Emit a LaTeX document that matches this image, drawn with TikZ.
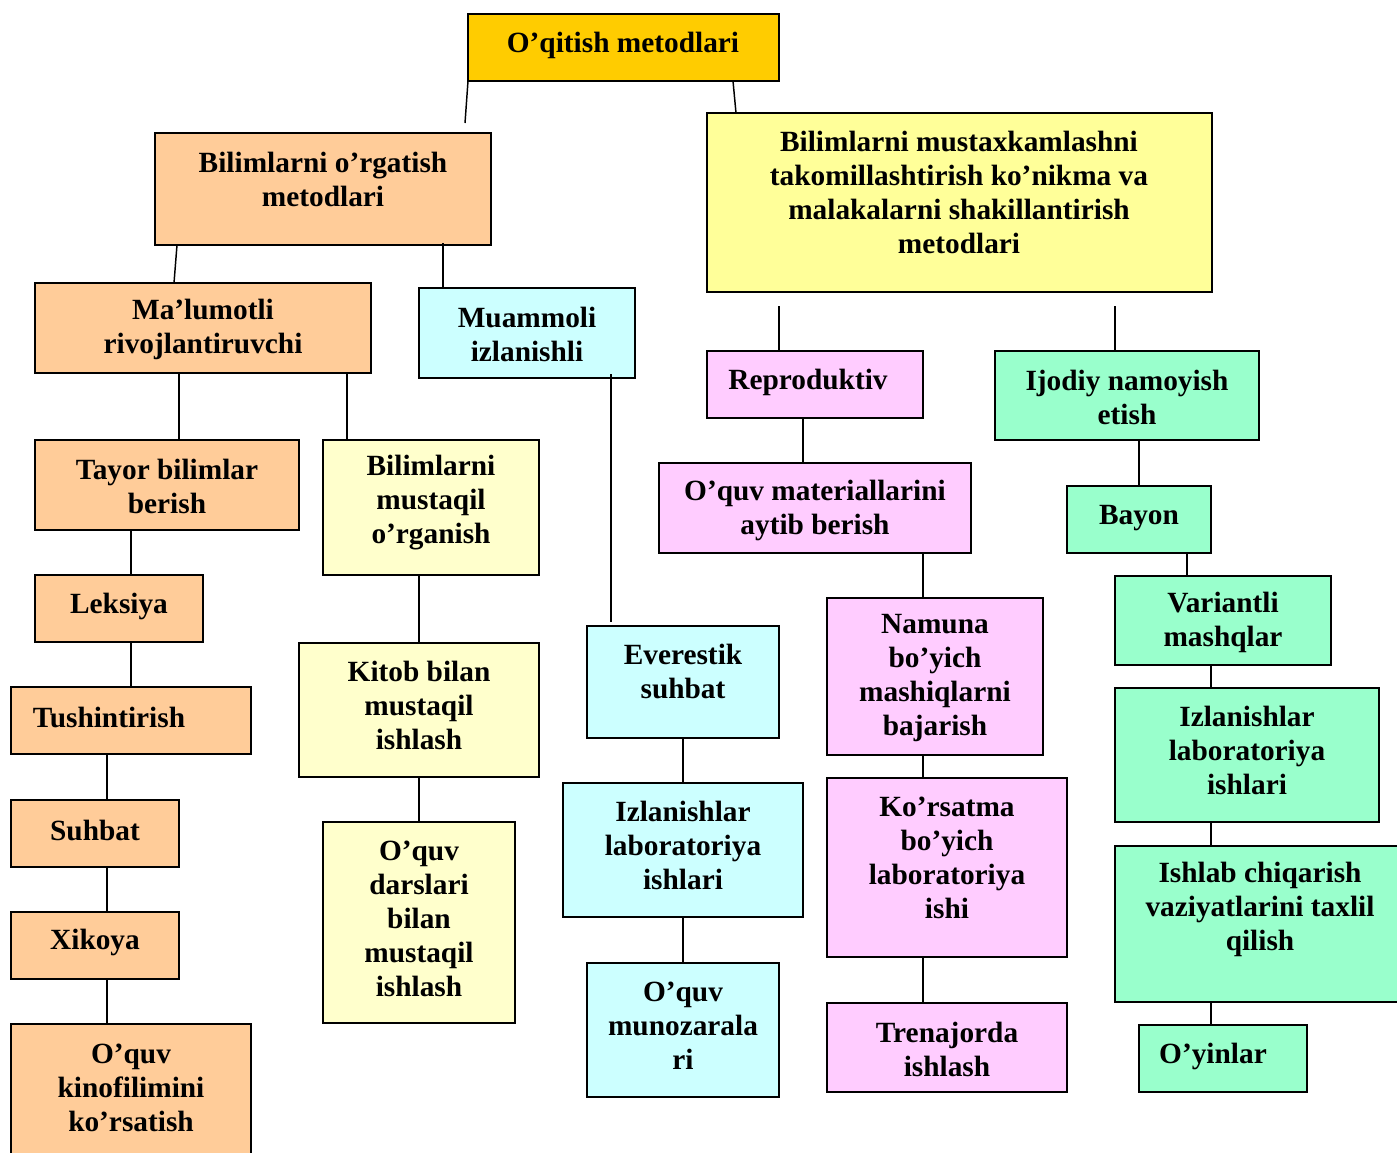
\documentclass[tikz,border=0pt]{standalone}
\usepackage{fontspec}
\setmainfont{Liberation Serif}
\usetikzlibrary{fit}
\definecolor{cgold}{HTML}{FFCC00}
\definecolor{cpeach}{HTML}{FFCC99}
\definecolor{cyel}{HTML}{FFFF99}
\definecolor{clyel}{HTML}{FFFFCC}
\definecolor{ccyan}{HTML}{CCFFFF}
\definecolor{cpink}{HTML}{FFCCFF}
\definecolor{cgreen}{HTML}{99FFCC}
\begin{document}
\begin{tikzpicture}[x=0.75pt,y=-0.75pt,
  box/.style={draw=black, line width=1.5pt, inner sep=0pt, outer sep=0pt},
  txt/.style={align=center, font=\fontsize{22}{25.5}\selectfont\bfseries, inner sep=0pt},
  conn/.style={line width=1.1pt, draw=black}]
\useasboundingbox (0,0) rectangle (1397,1153);
% boxes
\node[box,fill=cgold,fit={(468,14)(779,81)}](top){};
\node[txt] (top-t) at (623,45) {O’qitish metodlari};
\node[box,fill=cpeach,fit={(155,133)(491,245)}](bo){};
\node[txt] (bo-t) at (323,179) {Bilimlarni o’rgatish\\metodlari};
\node[box,fill=cyel,fit={(707,113)(1212,292)}](bm){};
\node[txt] (bm-t) at (959,192) {Bilimlarni mustaxkamlashni\\takomillashtirish ko’nikma va\\malakalarni shakillantirish\\metodlari};
\node[box,fill=cpeach,fit={(35,283)(371,373)}](ml){};
\node[txt] (ml-t) at (203,329) {Ma’lumotli\\rivojlantiruvchi};
\node[box,fill=ccyan,fit={(419,288)(635,378)}](mu){};
\node[txt] (mu-t) at (527,334) {Muammoli\\izlanishli};
\node[box,fill=cpink,fit={(707,351)(923,418)}](rp){};
\node[txt] (rp-t) at (808,382) {Reproduktiv};
\node[box,fill=cgreen,fit={(995,351)(1259,440)}](ij){};
\node[txt] (ij-t) at (1127,397) {Ijodiy namoyish\\etish};
\node[box,fill=cpeach,fit={(35,440)(299,530)}](ty){};
\node[txt] (ty-t) at (167,486) {Tayor bilimlar\\berish};
\node[box,fill=clyel,fit={(323,440)(539,575)}](bmo){};
\node[txt] (bmo-t) at (431,503) {Bilimlarni\\mustaqil\\o’rganish};
\node[box,fill=cpink,fit={(659,463)(971,553)}](om){};
\node[txt] (om-t) at (815,510) {O’quv materiallarini\\aytib berish};
\node[box,fill=cgreen,fit={(1067,486)(1211,553)}](by){};
\node[txt] (by-t) at (1139,518) {Bayon};
\node[box,fill=cpeach,fit={(35,575)(203,642)}](lk){};
\node[txt] (lk-t) at (119,606) {Leksiya};
\node[box,fill=clyel,fit={(299,643)(539,777)}](kt){};
\node[txt] (kt-t) at (419,705) {Kitob bilan\\mustaqil\\ishlash};
\node[box,fill=ccyan,fit={(587,626)(779,738)}](ev){};
\node[txt] (ev-t) at (683,671) {Everestik\\suhbat};
\node[box,fill=cpink,fit={(827,598)(1043,755)}](nm){};
\node[txt] (nm-t) at (935,678) {Namuna\\bo’yich\\mashiqlarni\\bajarish};
\node[box,fill=cgreen,fit={(1115,576)(1331,665)}](vr){};
\node[txt] (vr-t) at (1223,622) {Variantli\\mashqlar};
\node[box,fill=cpeach,fit={(11,687)(251,754)}](ts){};
\node[txt] (ts-t) at (109,717) {Tushintirish};
\node[box,fill=ccyan,fit={(563,783)(803,917)}](izb){};
\node[txt] (izb-t) at (683,845) {Izlanishlar\\laboratoriya\\ishlari};
\node[box,fill=cpink,fit={(827,778)(1067,957)}](ko){};
\node[txt] (ko-t) at (947,858) {Ko’rsatma\\bo’yich\\laboratoriya\\ishi};
\node[box,fill=cgreen,fit={(1115,688)(1379,822)}](izg){};
\node[txt] (izg-t) at (1247,750) {Izlanishlar\\laboratoriya\\ishlari};
\node[box,fill=cpeach,fit={(11,800)(179,867)}](sh){};
\node[txt] (sh-t) at (95,830) {Suhbat};
\node[box,fill=clyel,fit={(323,822)(515,1023)}](od){};
\node[txt] (od-t) at (419,919) {O’quv\\darslari\\bilan\\mustaqil\\ishlash};
\node[box,fill=cgreen,fit={(1115,846)(1410,1002)}](is){};
\node[txt] (is-t) at (1260,909) {Ishlab chiqarish\\vaziyatlarini taxlil\\qilish};
\node[box,fill=cpeach,fit={(11,912)(179,979)}](xk){};
\node[txt] (xk-t) at (95,942) {Xikoya};
\node[box,fill=ccyan,fit={(587,963)(779,1097)}](mz){};
\node[txt] (mz-t) at (683,1026) {O’quv\\munozarala\\ri};
\node[box,fill=cpink,fit={(827,1003)(1067,1092)}](tr){};
\node[txt] (tr-t) at (947,1049) {Trenajorda\\ishlash};
\node[box,fill=cgreen,fit={(1139,1025)(1307,1092)}](oy){};
\node[txt] (oy-t) at (1213,1056) {O’yinlar};
\node[box,fill=cpeach,fit={(11,1024)(251,1175)}](kf){};
\node[txt] (kf-t) at (131,1088) {O’quv\\kinofilimini\\ko’rsatish};
% free ends
\coordinate (e1) at (465,123);
\coordinate (e4) at (443,243);
\coordinate (e5) at (779,306);
\coordinate (e6) at (1115,306);
\coordinate (e9a) at (611,374);
\coordinate (e9b) at (611,622);
% connectors
\draw[conn] (top.south west) -- (e1);
\draw[conn] (733,0 |- top.south) -- (736,0 |- bm.north);
\draw[conn] (177,0 |- bo.south) -- (174,0 |- ml.north);
\draw[conn] (e4) -- (443,0 |- mu.north);
\draw[conn] (e5) -- (779,0 |- rp.north);
\draw[conn] (e6) -- (1115,0 |- ij.north);
\draw[conn] (179,0 |- ml.south) -- (179,0 |- ty.north);
\draw[conn] (347,0 |- ml.south) -- (347,0 |- bmo.north);
\draw[conn] (e9a) -- (e9b);
\draw[conn] (803,0 |- rp.south) -- (803,0 |- om.north);
\draw[conn] (1139,0 |- ij.south) -- (1139,0 |- by.north);
\draw[conn] (131,0 |- ty.south) -- (131,0 |- lk.north);
\draw[conn] (419,0 |- bmo.south) -- (419,0 |- kt.north);
\draw[conn] (923,0 |- om.south) -- (923,0 |- nm.north);
\draw[conn] (1187,0 |- by.south) -- (1187,0 |- vr.north);
\draw[conn] (131,0 |- lk.south) -- (131,0 |- ts.north);
\draw[conn] (683,0 |- ev.south) -- (683,0 |- izb.north);
\draw[conn] (923,0 |- nm.south) -- (923,0 |- ko.north);
\draw[conn] (1211,0 |- vr.south) -- (1211,0 |- izg.north);
\draw[conn] (107,0 |- ts.south) -- (107,0 |- sh.north);
\draw[conn] (419,0 |- kt.south) -- (419,0 |- od.north);
\draw[conn] (1211,0 |- izg.south) -- (1211,0 |- is.north);
\draw[conn] (107,0 |- sh.south) -- (107,0 |- xk.north);
\draw[conn] (683,0 |- izb.south) -- (683,0 |- mz.north);
\draw[conn] (923,0 |- ko.south) -- (923,0 |- tr.north);
\draw[conn] (1211,0 |- is.south) -- (1211,0 |- oy.north);
\draw[conn] (107,0 |- xk.south) -- (107,0 |- kf.north);
\end{tikzpicture}
\end{document}
